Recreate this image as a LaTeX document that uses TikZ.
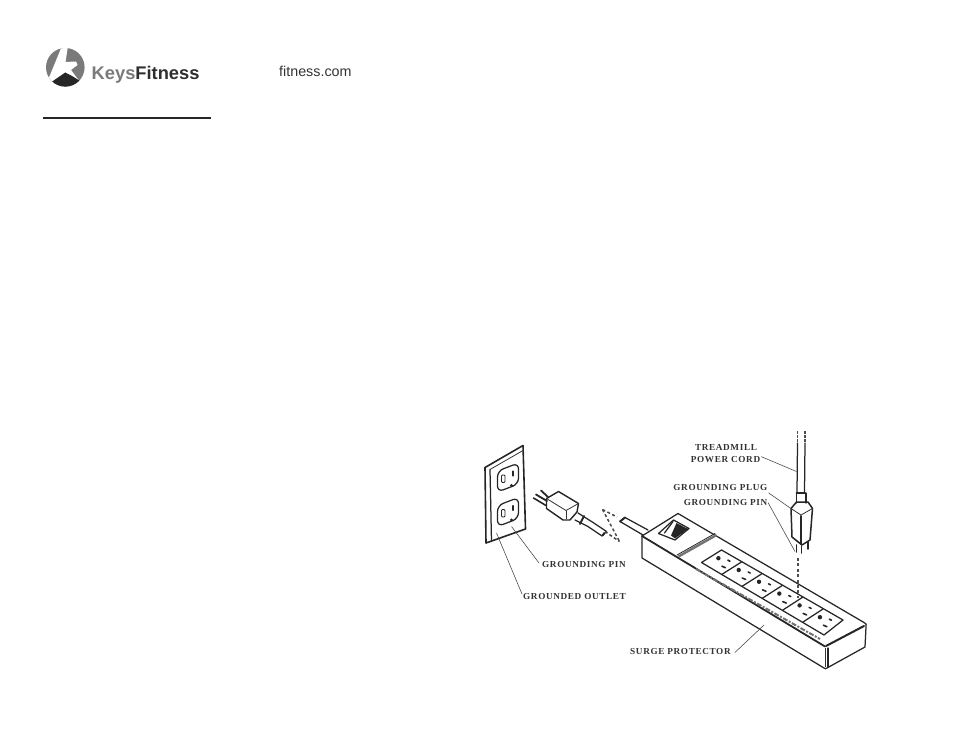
\documentclass[tikz,border=0pt]{standalone}
\usepackage{fontspec}
\setmainfont{Liberation Serif}
\newfontfamily\logofont{Liberation Sans}
\tikzset{
	partline/.style={line width=1.25pt, line join=round, line cap=round, black!85},
	thinline/.style={line width=0.8pt, black!80},
	leader/.style={line width=0.55pt, black!75},
	tag/.style={font=\fontsize{9.2}{11}\selectfont\bfseries\addfontfeature{LetterSpace=7}, text=black!80, inner sep=0pt},
	dashline/.style={line width=1.5pt, dash pattern=on 3pt off 2.4pt, black!70},
}
\begin{document}
\begin{tikzpicture}[x=1pt, y=-1pt]
			\useasboundingbox (0,0) rectangle (954,738);
			% logo
			\fill[black!52] (65.3,67.3) circle (19.3);
			\begin{scope}
				\clip (65.3,67.3) circle (19.3);
				\fill[white] (62,46) -- (68,46) -- (65.5,62) -- (76,61.5) -- (77.5,65) -- (71,70) -- (80,82) -- (65,74) -- (52,84) -- (48,80) -- cycle;
				\fill[black!85] (50,83) -- (65.3,72.5) -- (72,76) -- (80,81) -- (86,90) -- (44,90) -- cycle;
			\end{scope}
			\node[anchor=base west, inner sep=0pt, font=\logofont\fontsize{18.3}{20}\selectfont\bfseries] (brand) at (91.5,79.5) {\textcolor{black!52}{Keys}\textcolor{black!82}{Fitness}};
			\node[anchor=base west, inner sep=0pt, font=\logofont\fontsize{14.3}{16}\selectfont, text=black!80] (site) at (279,76.8) {fitness.com};
			\coordinate (ruleL) at (43,118.5);
			\coordinate (ruleR) at (211,118.5);
			\draw[line width=2pt, black!85] (ruleL) -- (ruleR);

			% wall plate
			\draw[partline, line width=1.6pt] (485,467.5) -- (523,445.5) -- (525.5,529) -- (486,543) -- cycle;
			\draw[thinline] (490,469.5) -- (523,450.5);
			\draw[partline] (490,469.5) -- (491.5,541.5);
			\foreach \cy/\nm in {477.5/outletA, 512/outletB} {
				\begin{scope}[shift={(508,\cy)}]
					\draw[partline, rounded corners=6pt] (-10.5,-6.5) -- (10.5,-14.5) -- (10.5,6.5) -- (-10.5,14.5) -- cycle;
					\draw[partline, line width=0.9pt, rounded corners=1pt] (-6.5,-2.5) rectangle (-3,5);
					\draw[partline, line width=2.4pt] (5,-6) -- (5,-2);
					\fill[black!85] (3.5,8) circle (1.7);
				\end{scope}
			}

			% plug on the wall side
			\draw[partline, line width=1.6pt] (533.5,498) -- (546,505.5);
			\draw[partline, line width=1.8pt] (536,494.5) -- (547,501);
			\draw[partline, line width=1.8pt] (541,490.5) -- (548,497);
			\draw[partline, line width=1.4pt] (546.5,498.5) -- (558.5,491.5) -- (578.5,503.5) -- (577,512) -- (570,520) -- (563,520) -- (546.5,508.5) -- cycle;
			\draw[thinline] (546.5,498.5) -- (566,510.5) -- (578.5,503.5);
			\draw[thinline] (566,510.5) -- (566,519);
			\draw[partline] (578,513) -- (591.5,521.5) -- (606.5,531.5) -- (602,536) -- (588,526.5) -- (575,520);
			\draw[partline, line width=2pt] (584,516) -- (580,524);
			\draw[partline, line width=2pt] (604.5,533) -- (602.5,535.5);
			\draw[dashline] (602.5,509.5) -- (619.5,541.5);
			\draw[dashline] (602.5,509.5) -- (617,517);
			\draw[dashline] (605,531.5) -- (619.5,541.5);

			% surge strip cord
			\draw[partline] (625,517.5) -- (648,530);
			\draw[partline] (620,521.5) -- (643,535);
			\draw[partline, line width=2pt] (625,517.5) -- (620,521.5);

			% surge strip body
			\draw[partline] (642,536) -- (678,513.5) -- (864,622.5) .. controls (866.5,624) .. (866,627) -- (865,647) -- (827,668) .. controls (825.5,669) .. (824,668) -- (642,558) -- cycle;
			\draw[partline, line width=1.8pt] (642,536) -- (825,646.5);
			\draw[partline, line width=2pt] (826,646) -- (864,626);
			\draw[thinline] (825,648) -- (825,667);
			\draw[partline] (828,648) -- (828,667);
			% groove and the speckled edge
			\draw[black!55, line width=2.4pt] (678.5,556.5) -- (716.5,535);
			\draw[partline, line width=0.8pt] (677,555) -- (715,533.5);
			\draw[black!55, line width=2pt, dash pattern=on 5pt off 1.5pt on 2pt off 1.5pt] (696,569) -- (820,639);
			% switch
			\draw[partline] (658.5,533.5) -- (673.5,520) -- (689,528.5) -- (675,540) -- cycle;
			\fill[black!85] (676.5,523) -- (688,529) -- (675,538.5) -- (671,535.5) -- cycle;
			\draw[partline] (664.5,533) -- (673,521.5);

			% socket panel
			\draw[partline] (721.5,550) -- (843,620) -- (824,635) -- (701.5,562.5) -- cycle;
			\foreach \i in {1,...,5} {
				\draw[partline] (721.5+\i*20.3,550+\i*11.8) -- (701.5+\i*20.3,562.5+\i*11.9);
			}
			\foreach \i in {0,...,5} {
				\begin{scope}[shift={(721.9+\i*20.3,562.2+\i*11.8)}]
					\fill[black!85] (-3.5,-4) circle (2.2);
					\draw[partline, line width=1.6pt] (6,-2) -- (8,-1);
					\draw[partline, line width=1.6pt] (0,4) -- (3.5,5.5);
				\end{scope}
			}

			% treadmill cord and plug
			\draw[dashline, line width=1.1pt, dash pattern=on 2.5pt off 1.5pt] (797.5,431) -- (797.5,443);
			\draw[dashline, line width=1.1pt, dash pattern=on 2.5pt off 1.5pt] (805,431) -- (805,443);
			\draw[partline] (797.5,443) -- (797,493);
			\draw[partline] (805,443) -- (804.5,493);
			\draw[partline, line width=2pt] (796.5,493) -- (805,493);
			\draw[partline] (796.5,493) -- (796.5,503);
			\draw[partline] (806,493) -- (806,503);
			\draw[partline, line width=1.5pt] (791,508.5) -- (796.5,502) -- (808,502) -- (812.5,508.5) -- (810,540) -- (802,545) -- (792,537) -- cycle;
			\draw[thinline] (791,508.5) -- (801,515) -- (812.5,508.5);
			\draw[partline, line width=2pt] (801,516) -- (801,544);
			\draw[partline, line width=1.8pt] (796.5,545) -- (796.5,552);
			\draw[partline, line width=1.8pt] (801.5,546) -- (801.5,553);
			\draw[partline, line width=1.8pt] (808,542) -- (808,549);
			\draw[dashline] (798,558) -- (798,598);

			% labels
			\node[tag] (cordA) at (726,447.5) {TREADMILL};
			\node[tag] (cordB) at (725.5,460) {POWER CORD};
			\node[tag, anchor=east] (plugTag) at (767.5,487.5) {GROUNDING PLUG};
			\node[tag, anchor=east] (pinTagR) at (767.5,502.5) {GROUNDING PIN};
			\node[tag, anchor=west] (pinTagL) at (542,564) {GROUNDING PIN};
			\node[tag, anchor=west] (outTag) at (523,596) {GROUNDED OUTLET};
			\node[tag, anchor=west] (surgeTag) at (630,651.5) {SURGE PROTECTOR};
			\coordinate (cordPt) at (796.5,471.5);
			\coordinate (plugPt) at (793,510);
			\coordinate (pinPtR) at (795,551.5);
			\coordinate (pinPtL) at (511.5,526.5);
			\coordinate (outPt) at (496.5,533);
			\coordinate (surgePt) at (764,625);
			\draw[leader] (cordB.north east) ++(1,0) -- (cordPt);
			\draw[leader] (plugTag.south east) ++(1,2) -- (plugPt);
			\draw[leader] (pinTagR.east) ++(0.5,0) -- (pinPtR);
			\draw[leader] (pinTagL.west) ++(-3,-1) -- (pinPtL);
			\draw[leader] (outTag.west) ++(-1,-2) -- (outPt);
			\draw[leader] (surgeTag.east) ++(4,1) -- (surgePt);
			\end{tikzpicture}
\end{document}
